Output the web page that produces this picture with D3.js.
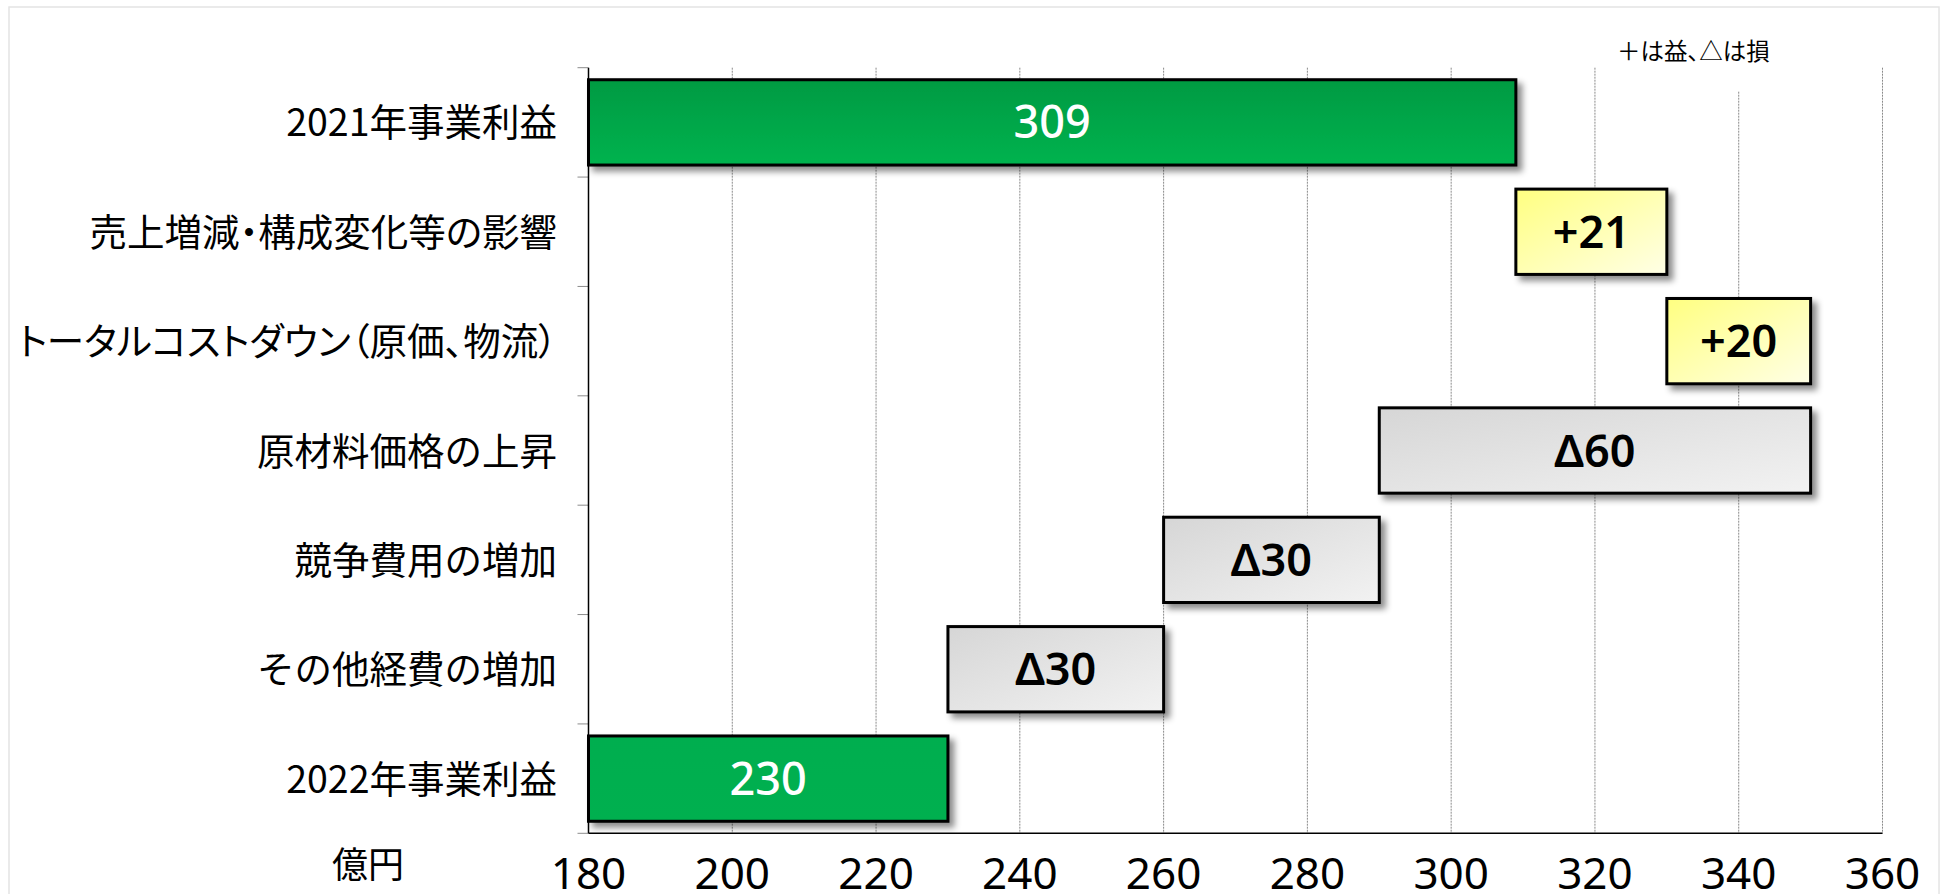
<!DOCTYPE html>
<html>
<head>
<meta charset="utf-8">
<script src="https://cdn.jsdelivr.net/npm/d3@7"></script>
<style>
  html, body { margin: 0; padding: 0; background: #ffffff; }
  svg { display: block; }
</style>
</head>
<body>
<svg id="chart" width="1941" height="894"></svg>
<script>
// ---- data ----
const categories = [
  "2021年事業利益",
  "売上増減・構成変化等の影響",
  "トータルコストダウン（原価、物流）",
  "原材料価格の上昇",
  "競争費用の増加",
  "その他経費の増加",
  "2022年事業利益"
];
const values = [309, 21, 20, -60, -30, -30, 230];
const kinds  = ["total", "delta", "delta", "delta", "delta", "delta", "total"];
const xTicks = [180, 200, 220, 240, 260, 280, 300, 320, 340, 360];
const unitLabel = "億円";
const noteLabel = "＋は益、△は損";

// ---- build waterfall extents ----
const xMin = xTicks[0], xMax = xTicks[xTicks.length - 1];
let running = 0;
const bars = categories.map((c, i) => {
  const v = values[i];
  let x0, x1, label, style;
  if (kinds[i] === "total") {
    x0 = xMin; x1 = v; running = v;
    label = String(v);
    style = i === 0 ? "greenGrad" : "greenFlat";
  } else {
    const start = running;
    running = running + v;
    x0 = Math.min(start, running); x1 = Math.max(start, running);
    label = v >= 0 ? "+" + v : "Δ" + Math.abs(v);
    style = v >= 0 ? "yellow" : "grey";
  }
  return { cat: c, x0, x1, label, style };
});

// ---- layout ----
const svg = d3.select("#chart");
const pLeft = 588.5, pRight = 1882.5, pTop = 67.7, pBottom = 833.3;
const x = d3.scaleLinear().domain([xMin, xMax]).range([pLeft, pRight]);
const y = d3.scaleBand().domain(categories).range([pTop, pBottom]).padding(0);
const barH = y.bandwidth() * 0.78;
const barOff = (y.bandwidth() - barH) / 2;

// defs
const defs = svg.append("defs");
const g1 = defs.append("linearGradient").attr("id", "greenGrad")
  .attr("x1", 0).attr("y1", 0).attr("x2", 0).attr("y2", 1);
g1.append("stop").attr("offset", "0%").attr("stop-color", "#009a42");
g1.append("stop").attr("offset", "100%").attr("stop-color", "#00b34f");
const g2 = defs.append("linearGradient").attr("id", "greenFlat")
  .attr("x1", 0).attr("y1", 0).attr("x2", 0).attr("y2", 1);
g2.append("stop").attr("offset", "0%").attr("stop-color", "#00ae4f");
g2.append("stop").attr("offset", "100%").attr("stop-color", "#00b050");
const gy = defs.append("linearGradient").attr("id", "yellow")
  .attr("x1", 0).attr("y1", 0).attr("x2", 1).attr("y2", 1);
gy.append("stop").attr("offset", "0%").attr("stop-color", "#ffff80");
gy.append("stop").attr("offset", "100%").attr("stop-color", "#ffffe6");
const gg = defs.append("linearGradient").attr("id", "grey")
  .attr("x1", 0).attr("y1", 0).attr("x2", 1).attr("y2", 1);
gg.append("stop").attr("offset", "0%").attr("stop-color", "#d6d6d6");
gg.append("stop").attr("offset", "100%").attr("stop-color", "#f2f2f2");
const flt = defs.append("filter").attr("id", "shadow")
  .attr("x", "-10%").attr("y", "-20%").attr("width", "130%").attr("height", "150%");
flt.append("feDropShadow").attr("dx", 5).attr("dy", 5).attr("stdDeviation", 3)
  .attr("flood-color", "#000").attr("flood-opacity", 0.45);

// outer frame
svg.append("rect").attr("x", 9).attr("y", 7).attr("width", 1930).attr("height", 900)
  .attr("fill", "#ffffff").attr("stroke", "#e4e4e4").attr("stroke-width", 1.5);

// gridlines
svg.append("g").selectAll("line").data(xTicks.slice(1)).join("line")
  .attr("x1", d => x(d)).attr("x2", d => x(d))
  .attr("y1", pTop).attr("y2", pBottom)
  .attr("stroke", "#8a8a8a").attr("stroke-width", 1)
  .attr("stroke-dasharray", "2,1");

// note (with white backing covering gridline)
svg.append("rect").attr("x", 1608).attr("y", 28).attr("width", 182).attr("height", 63)
  .attr("fill", "#ffffff");
svg.append("text").attr("x", 1617).attr("y", 60)
  .attr("font-family", "'Noto Sans CJK JP', sans-serif").attr("font-size", 23.5)
  .style("font-feature-settings", "'palt'")
  .attr("fill", "#000").text(noteLabel);

// y-axis ticks (band boundaries)
const bounds = categories.map(c => y(c)).concat([pBottom]);
svg.append("g").selectAll("line").data(bounds).join("line")
  .attr("x1", pLeft - 11).attr("x2", pLeft).attr("y1", d => d).attr("y2", d => d)
  .attr("stroke", "#8c8c8c").attr("stroke-width", 1);

// bars
const bg = svg.append("g");
bg.selectAll("rect").data(bars).join("rect")
  .attr("x", d => x(d.x0)).attr("width", d => x(d.x1) - x(d.x0))
  .attr("y", d => y(d.cat) + barOff).attr("height", barH)
  .attr("fill", d => `url(#${d.style})`)
  .attr("stroke", "#000").attr("stroke-width", 3)
  .attr("filter", "url(#shadow)");

// bar labels
bg.selectAll("text").data(bars).join("text")
  .attr("x", d => (x(d.x0) + x(d.x1)) / 2)
  .attr("y", d => y(d.cat) + y.bandwidth() / 2 + 16)
  .attr("text-anchor", "middle")
  .attr("font-family", "'Noto Sans', sans-serif")
  .attr("font-size", 45)
  .attr("font-weight", d => d.style.startsWith("green") ? 500 : 600)
  .attr("fill", d => d.style.startsWith("green") ? "#ffffff" : "#000000")
  .text(d => d.label);

// axes lines
svg.append("line").attr("x1", pLeft).attr("x2", pLeft).attr("y1", pTop).attr("y2", pBottom)
  .attr("stroke", "#000").attr("stroke-width", 1.5);
svg.append("line").attr("x1", pLeft).attr("x2", pRight).attr("y1", pBottom).attr("y2", pBottom)
  .attr("stroke", "#000").attr("stroke-width", 1.5);

// category labels
svg.append("g").selectAll("text").data(categories).join("text")
  .attr("x", 557).attr("y", d => y(d) + y.bandwidth() / 2 + 14)
  .attr("text-anchor", "end")
  .attr("font-family", "'Noto Sans CJK JP', sans-serif")
  .attr("font-size", 37.5)
  .style("font-feature-settings", d => /[・（）、]/.test(d) ? "'palt'" : "normal")
  .attr("fill", "#000")
  .text(d => d)
  .each(function () {
    if (this.getComputedTextLength() > 545) {
      d3.select(this).attr("textLength", 545).attr("lengthAdjust", "spacingAndGlyphs");
    }
  });

// x tick labels
svg.append("g").selectAll("text").data(xTicks).join("text")
  .attr("x", d => x(d)).attr("y", 889)
  .attr("text-anchor", "middle")
  .attr("font-family", "'Noto Sans', sans-serif")
  .attr("font-size", 44)
  .attr("fill", "#000")
  .text(d => d);

// unit label
svg.append("text").attr("x", 368).attr("y", 878)
  .attr("text-anchor", "middle")
  .attr("font-family", "'Noto Sans CJK JP', sans-serif")
  .attr("font-size", 36)
  .attr("fill", "#000")
  .text(unitLabel);
</script>
</body>
</html>
